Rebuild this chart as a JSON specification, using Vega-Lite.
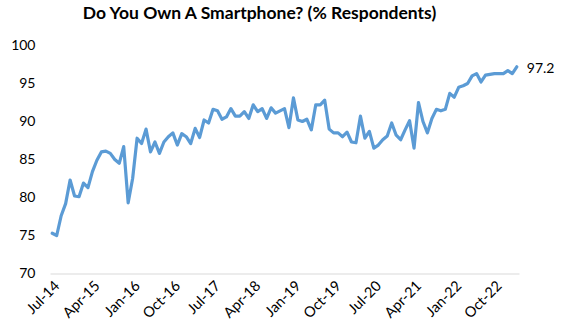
{
  "$schema": "https://vega.github.io/schema/vega-lite/v6.json",
  "width": 469,
  "height": 228,
  "autosize": {"type": "none"},
  "padding": {"left": 50, "top": 45.5, "right": 42, "bottom": 60.5},
  "background": "white",
  "title": {
    "text": "Do You Own A Smartphone? (% Respondents)",
    "font": "Lato",
    "fontSize": 17.5,
    "fontWeight": "bold",
    "color": "#000000",
    "anchor": "middle",
    "frame": "group",
    "dx": -25,
    "offset": 16
  },
  "data": {
    "values": [
      {"m": "Jul-14", "v": 75.3}, {"m": "Aug-14", "v": 75.0}, {"m": "Sep-14", "v": 77.6}, {"m": "Oct-14", "v": 79.2}, {"m": "Nov-14", "v": 82.3}, {"m": "Dec-14", "v": 80.2},
      {"m": "Jan-15", "v": 80.1}, {"m": "Feb-15", "v": 81.9}, {"m": "Mar-15", "v": 81.3}, {"m": "Apr-15", "v": 83.4}, {"m": "May-15", "v": 84.9}, {"m": "Jun-15", "v": 86.0},
      {"m": "Jul-15", "v": 86.1}, {"m": "Aug-15", "v": 85.8}, {"m": "Sep-15", "v": 85.0}, {"m": "Oct-15", "v": 84.5}, {"m": "Nov-15", "v": 86.7}, {"m": "Dec-15", "v": 79.3},
      {"m": "Jan-16", "v": 82.5}, {"m": "Feb-16", "v": 87.8}, {"m": "Mar-16", "v": 87.1}, {"m": "Apr-16", "v": 89.0}, {"m": "May-16", "v": 86.0}, {"m": "Jun-16", "v": 87.3},
      {"m": "Jul-16", "v": 85.8}, {"m": "Aug-16", "v": 87.3}, {"m": "Sep-16", "v": 88.0}, {"m": "Oct-16", "v": 88.5}, {"m": "Nov-16", "v": 86.9}, {"m": "Dec-16", "v": 88.4},
      {"m": "Jan-17", "v": 88.0}, {"m": "Feb-17", "v": 87.1}, {"m": "Mar-17", "v": 89.1}, {"m": "Apr-17", "v": 87.9}, {"m": "May-17", "v": 90.2}, {"m": "Jun-17", "v": 89.8},
      {"m": "Jul-17", "v": 91.6}, {"m": "Aug-17", "v": 91.4}, {"m": "Sep-17", "v": 90.3}, {"m": "Oct-17", "v": 90.6}, {"m": "Nov-17", "v": 91.7}, {"m": "Dec-17", "v": 90.7},
      {"m": "Jan-18", "v": 90.7}, {"m": "Feb-18", "v": 91.3}, {"m": "Mar-18", "v": 90.4}, {"m": "Apr-18", "v": 92.2}, {"m": "May-18", "v": 91.3}, {"m": "Jun-18", "v": 91.7},
      {"m": "Jul-18", "v": 90.4}, {"m": "Aug-18", "v": 91.8}, {"m": "Sep-18", "v": 91.1}, {"m": "Oct-18", "v": 91.4}, {"m": "Nov-18", "v": 91.7}, {"m": "Dec-18", "v": 89.2},
      {"m": "Jan-19", "v": 93.1}, {"m": "Feb-19", "v": 90.2}, {"m": "Mar-19", "v": 90.0}, {"m": "Apr-19", "v": 90.3}, {"m": "May-19", "v": 88.9}, {"m": "Jun-19", "v": 92.2},
      {"m": "Jul-19", "v": 92.2}, {"m": "Aug-19", "v": 92.8}, {"m": "Sep-19", "v": 89.0}, {"m": "Oct-19", "v": 88.5}, {"m": "Nov-19", "v": 88.5}, {"m": "Dec-19", "v": 88.0},
      {"m": "Jan-20", "v": 88.6}, {"m": "Feb-20", "v": 87.3}, {"m": "Mar-20", "v": 87.2}, {"m": "Apr-20", "v": 90.7}, {"m": "May-20", "v": 87.8}, {"m": "Jun-20", "v": 88.7},
      {"m": "Jul-20", "v": 86.5}, {"m": "Aug-20", "v": 86.9}, {"m": "Sep-20", "v": 87.6}, {"m": "Oct-20", "v": 88.1}, {"m": "Nov-20", "v": 89.8}, {"m": "Dec-20", "v": 88.2},
      {"m": "Jan-21", "v": 87.6}, {"m": "Feb-21", "v": 88.9}, {"m": "Mar-21", "v": 90.1}, {"m": "Apr-21", "v": 86.5}, {"m": "May-21", "v": 92.5}, {"m": "Jun-21", "v": 90.0},
      {"m": "Jul-21", "v": 88.5}, {"m": "Aug-21", "v": 90.4}, {"m": "Sep-21", "v": 91.6}, {"m": "Oct-21", "v": 91.4}, {"m": "Nov-21", "v": 91.6}, {"m": "Dec-21", "v": 93.7},
      {"m": "Jan-22", "v": 93.2}, {"m": "Feb-22", "v": 94.5}, {"m": "Mar-22", "v": 94.7}, {"m": "Apr-22", "v": 95.0}, {"m": "May-22", "v": 96.0}, {"m": "Jun-22", "v": 96.3},
      {"m": "Jul-22", "v": 95.2}, {"m": "Aug-22", "v": 96.1}, {"m": "Sep-22", "v": 96.2}, {"m": "Oct-22", "v": 96.3}, {"m": "Nov-22", "v": 96.3}, {"m": "Dec-22", "v": 96.3},
      {"m": "Jan-23", "v": 96.7}, {"m": "Feb-23", "v": 96.3}, {"m": "Mar-23", "v": 97.2}
    ]
  },
  "config": {
    "view": {"stroke": null},
    "axis": {"labelFont": "Lato", "labelColor": "#000000", "labelFontSize": 14.5}
  },
  "encoding": {
    "x": {
      "field": "m",
      "type": "ordinal",
      "sort": null,
      "scale": {"type": "point", "padding": 0.5},
      "axis": {
        "title": null,
        "values": ["Jul-14", "Apr-15", "Jan-16", "Oct-16", "Jul-17", "Apr-18", "Jan-19", "Oct-19", "Jul-20", "Apr-21", "Jan-22", "Oct-22"],
        "labelAngle": -45,
        "ticks": false,
        "tickSize": 0,
        "labelPadding": 5,
        "domainColor": "#D9D9D9",
        "domainWidth": 1,
        "grid": false
      }
    },
    "y": {
      "field": "v",
      "type": "quantitative",
      "scale": {"domain": [70, 100], "nice": false, "zero": false},
      "axis": {
        "title": null,
        "values": [70, 75, 80, 85, 90, 95, 100],
        "domain": false,
        "ticks": false,
        "tickSize": 0,
        "grid": false,
        "labelPadding": 15,
        "labelFontSize": 14
      }
    }
  },
  "layer": [
    {
      "mark": {"type": "line", "color": "#5B9BD5", "strokeWidth": 3.2, "strokeJoin": "round", "strokeCap": "round"}
    },
    {
      "transform": [{"filter": "datum.m === 'Mar-23'"}],
      "mark": {"type": "text", "align": "left", "baseline": "middle", "dx": 10, "dy": 2, "font": "Lato", "fontSize": 14, "color": "#000000"},
      "encoding": {"text": {"field": "v", "type": "quantitative", "format": ".1f"}}
    }
  ]
}
